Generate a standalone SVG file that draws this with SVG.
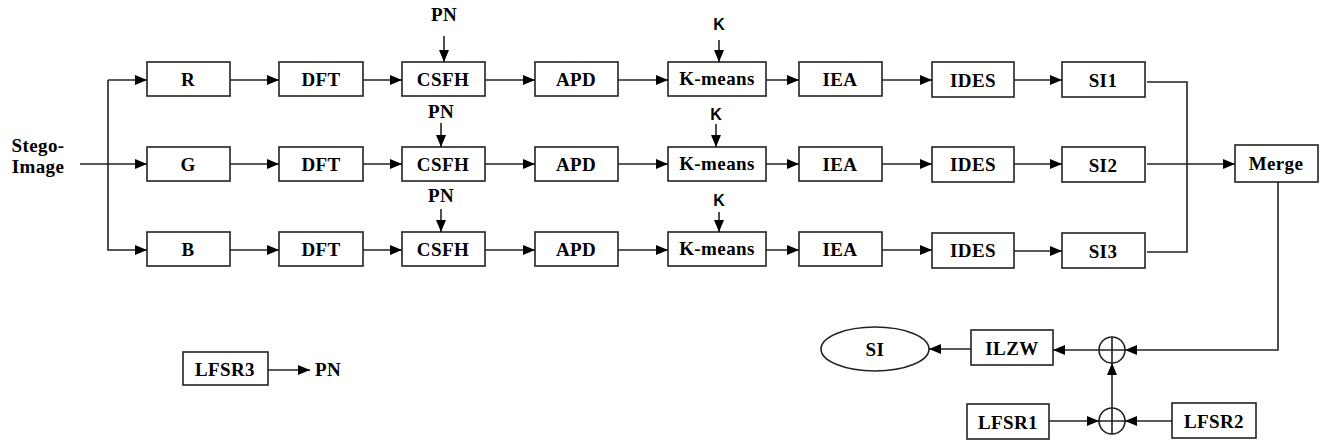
<svg xmlns="http://www.w3.org/2000/svg" width="1325" height="442" viewBox="0 0 1325 442">
<style>
.box{fill:#fff;stroke:#222;stroke-width:1.6}
.t{font-family:'Liberation Serif','Times New Roman',Times,'DejaVu Serif',serif;font-weight:bold;font-size:19px;letter-spacing:0.4px;fill:#000;text-anchor:middle}
.k{font-family:'Liberation Sans',Arial,sans-serif;font-weight:bold;font-size:16px;fill:#000;text-anchor:middle}
.c{fill:none;stroke:#222;stroke-width:1.6}
.a{fill:none;stroke:#222;stroke-width:1.6;marker-end:url(#ah)}
</style>
<defs>
<marker id="ah" markerUnits="userSpaceOnUse" markerWidth="13" markerHeight="11" refX="12" refY="5" orient="auto">
<path d="M0,0 L12,5 L0,10 z" fill="#000"/>
</marker>
</defs>
<rect width="1325" height="442" fill="#fff"/>

<g id="input"><text class="t" x="38" y="152">Stego-</text><text class="t" x="38" y="173">Image</text></g>

<g id="R"><rect class="box" x="147" y="62" width="83" height="34"/><text class="t" x="188" y="86">R</text></g>
<g id="G"><rect class="box" x="147" y="147" width="83" height="34"/><text class="t" x="188" y="171">G</text></g>
<g id="B"><rect class="box" x="147" y="232" width="83" height="34"/><text class="t" x="188" y="256">B</text></g>

<g id="DFT1"><rect class="box" x="279" y="62" width="84" height="34"/><text class="t" x="321" y="86">DFT</text></g>
<g id="DFT2"><rect class="box" x="279" y="147" width="84" height="34"/><text class="t" x="321" y="171">DFT</text></g>
<g id="DFT3"><rect class="box" x="279" y="232" width="84" height="34"/><text class="t" x="321" y="256">DFT</text></g>

<g id="CSFH1"><rect class="box" x="402" y="62" width="83" height="34"/><text class="t" x="443" y="86">CSFH</text></g>
<g id="CSFH2"><rect class="box" x="402" y="147" width="83" height="34"/><text class="t" x="443" y="171">CSFH</text></g>
<g id="CSFH3"><rect class="box" x="402" y="232" width="83" height="34"/><text class="t" x="443" y="256">CSFH</text></g>

<g id="APD1"><rect class="box" x="535" y="62" width="83" height="34"/><text class="t" x="576" y="86">APD</text></g>
<g id="APD2"><rect class="box" x="535" y="147" width="83" height="34"/><text class="t" x="576" y="171">APD</text></g>
<g id="APD3"><rect class="box" x="535" y="232" width="83" height="34"/><text class="t" x="576" y="256">APD</text></g>

<g id="KM1"><rect class="box" x="668" y="62" width="98" height="34"/><text class="t" x="717" y="85">K-means</text></g>
<g id="KM2"><rect class="box" x="668" y="147" width="98" height="34"/><text class="t" x="717" y="170">K-means</text></g>
<g id="KM3"><rect class="box" x="668" y="232" width="98" height="34"/><text class="t" x="717" y="255">K-means</text></g>

<g id="IEA1"><rect class="box" x="799" y="62" width="83" height="34"/><text class="t" x="840" y="86">IEA</text></g>
<g id="IEA2"><rect class="box" x="799" y="147" width="83" height="34"/><text class="t" x="840" y="171">IEA</text></g>
<g id="IEA3"><rect class="box" x="799" y="232" width="83" height="34"/><text class="t" x="840" y="256">IEA</text></g>

<g id="IDES1"><rect class="box" x="932" y="62" width="82" height="35"/><text class="t" x="973" y="87">IDES</text></g>
<g id="IDES2"><rect class="box" x="932" y="147" width="82" height="35"/><text class="t" x="973" y="171">IDES</text></g>
<g id="IDES3"><rect class="box" x="932" y="233" width="82" height="35"/><text class="t" x="973" y="257">IDES</text></g>

<g id="SI1"><rect class="box" x="1062" y="62" width="83" height="35"/><text class="t" x="1103" y="87">SI1</text></g>
<g id="SI2"><rect class="box" x="1062" y="147" width="83" height="35"/><text class="t" x="1103" y="172">SI2</text></g>
<g id="SI3"><rect class="box" x="1062" y="233" width="83" height="35"/><text class="t" x="1103" y="258">SI3</text></g>

<g id="Merge"><rect class="box" x="1235" y="145" width="83" height="37"/><text class="t" x="1276" y="170">Merge</text></g>

<g id="PNlabels">
<text class="t" x="444" y="21">PN</text>
<text class="t" x="441" y="118">PN</text>
<text class="t" x="441" y="202">PN</text>
</g>
<g id="Klabels">
<text class="k" x="719" y="30">K</text>
<text class="k" x="716" y="120">K</text>
<text class="k" x="719" y="206">K</text>
</g>

<g id="SI"><ellipse class="box" cx="875" cy="349" rx="54" ry="22"/><text class="t" x="875" y="356">SI</text></g>
<g id="ILZW"><rect class="box" x="971" y="330" width="82" height="35"/><text class="t" x="1012" y="355">ILZW</text></g>
<g id="XOR1"><circle class="box" cx="1112" cy="350" r="13"/><path class="c" d="M1099,350 H1125 M1112,337 V363"/></g>
<g id="XOR2"><circle class="box" cx="1112" cy="421" r="13"/><path class="c" d="M1099,421 H1125 M1112,408 V434"/></g>
<g id="LFSR1"><rect class="box" x="967" y="404" width="82" height="35"/><text class="t" x="1008" y="429">LFSR1</text></g>
<g id="LFSR2"><rect class="box" x="1172" y="403" width="84" height="35"/><text class="t" x="1214" y="428">LFSR2</text></g>
<g id="LFSR3"><rect class="box" x="183" y="352" width="85" height="33"/><text class="t" x="225" y="376">LFSR3</text></g>
<g id="PNout"><text class="t" x="328" y="376">PN</text></g>

<g id="connectors">
<path class="a" d="M80,164 H147"/>
<path class="a" d="M108,80 V250 H147"/>
<path class="a" d="M108,80 H147"/>
<path class="a" d="M230,80 H279"/><path class="a" d="M230,164 H279"/><path class="a" d="M230,250 H279"/>
<path class="a" d="M363,80 H402"/><path class="a" d="M363,164 H402"/><path class="a" d="M363,250 H402"/>
<path class="a" d="M485,80 H535"/><path class="a" d="M485,164 H535"/><path class="a" d="M485,250 H535"/>
<path class="a" d="M618,80 H668"/><path class="a" d="M618,164 H668"/><path class="a" d="M618,250 H668"/>
<path class="a" d="M766,80 H799"/><path class="a" d="M766,164 H799"/><path class="a" d="M766,250 H799"/>
<path class="a" d="M882,80 H932"/><path class="a" d="M882,164 H932"/><path class="a" d="M882,250 H932"/>
<path class="a" d="M1014,80 H1062"/><path class="a" d="M1014,164 H1062"/><path class="a" d="M1014,251 H1062"/>
<path class="a" d="M444,36 V62"/><path class="a" d="M441,123 V147"/><path class="a" d="M441,209 V232"/>
<path class="a" d="M719,40 V62"/><path class="a" d="M716,124 V147"/><path class="a" d="M719,212 V232"/>
<path class="c" d="M1147,82 H1187 V252 H1147"/>
<path class="a" d="M1147,164 H1235"/>
<path class="a" d="M1278,182 V350 H1125"/>
<path class="a" d="M1099,350 H1053"/>
<path class="a" d="M971,349 H929"/>
<path class="a" d="M1112,408 V363"/>
<path class="a" d="M1049,421 H1099"/>
<path class="a" d="M1172,421 H1125"/>
<path class="a" d="M268,370 H310"/>
</g>
</svg>
